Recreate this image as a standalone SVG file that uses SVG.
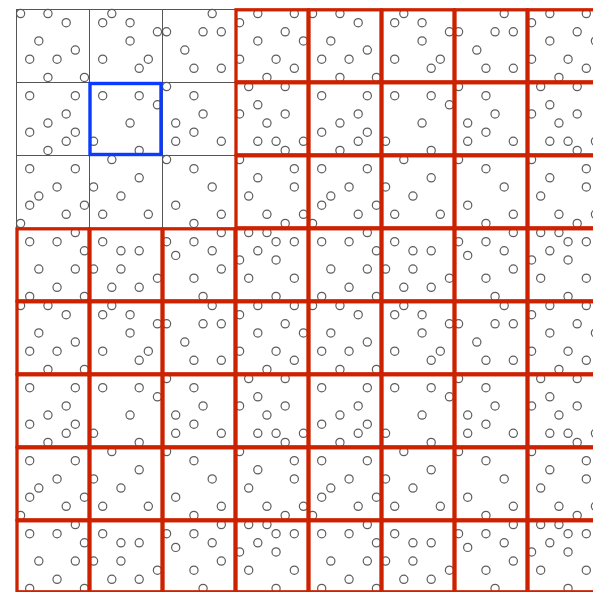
<svg xmlns="http://www.w3.org/2000/svg" width="593" height="592" viewBox="0 0 593 592">
<style>
.dot circle{fill:none;stroke:#5e5e5e;stroke-width:1.2}
.gray{fill:none;stroke:#555;stroke-width:1}
.red{fill:none;stroke:#cc2200;stroke-width:3.3}
.blue{fill:none;stroke:#0b3bff;stroke-width:3.4}
</style>
<defs>
<g id="p00" class="dot"><circle cx="4.56" cy="4.56" r="4.1"/><circle cx="31.94" cy="4.56" r="4.1"/><circle cx="50.19" cy="13.69" r="4.1"/><circle cx="22.81" cy="31.94" r="4.1"/><circle cx="59.31" cy="41.06" r="4.1"/><circle cx="13.69" cy="50.19" r="4.1"/><circle cx="41.06" cy="50.19" r="4.1"/><circle cx="31.94" cy="68.44" r="4.1"/><circle cx="68.44" cy="68.44" r="4.1"/></g>
<g id="p01" class="dot"><circle cx="22.81" cy="4.56" r="4.1"/><circle cx="13.69" cy="13.69" r="4.1"/><circle cx="41.06" cy="13.69" r="4.1"/><circle cx="68.44" cy="22.81" r="4.1"/><circle cx="41.06" cy="31.94" r="4.1"/><circle cx="13.69" cy="50.19" r="4.1"/><circle cx="59.31" cy="50.19" r="4.1"/><circle cx="50.19" cy="59.31" r="4.1"/></g>
<g id="p02" class="dot"><circle cx="50.19" cy="4.56" r="4.1"/><circle cx="4.56" cy="22.81" r="4.1"/><circle cx="41.06" cy="22.81" r="4.1"/><circle cx="59.31" cy="22.81" r="4.1"/><circle cx="22.81" cy="41.06" r="4.1"/><circle cx="31.94" cy="59.31" r="4.1"/><circle cx="59.31" cy="59.31" r="4.1"/></g>
<g id="p03" class="dot"><circle cx="22.81" cy="4.56" r="4.1"/><circle cx="59.31" cy="4.56" r="4.1"/><circle cx="4.56" cy="13.69" r="4.1"/><circle cx="50.19" cy="22.81" r="4.1"/><circle cx="22.81" cy="31.94" r="4.1"/><circle cx="68.44" cy="31.94" r="4.1"/><circle cx="4.56" cy="50.19" r="4.1"/><circle cx="41.06" cy="50.19" r="4.1"/><circle cx="59.31" cy="59.31" r="4.1"/><circle cx="31.94" cy="68.44" r="4.1"/></g>
<g id="p10" class="dot"><circle cx="13.69" cy="13.69" r="4.1"/><circle cx="59.31" cy="13.69" r="4.1"/><circle cx="50.19" cy="31.94" r="4.1"/><circle cx="31.94" cy="41.06" r="4.1"/><circle cx="13.69" cy="50.19" r="4.1"/><circle cx="59.31" cy="50.19" r="4.1"/><circle cx="50.19" cy="59.31" r="4.1"/><circle cx="31.94" cy="68.44" r="4.1"/></g>
<g id="p11" class="dot"><circle cx="13.69" cy="13.69" r="4.1"/><circle cx="50.19" cy="13.69" r="4.1"/><circle cx="68.44" cy="22.81" r="4.1"/><circle cx="41.06" cy="41.06" r="4.1"/><circle cx="4.56" cy="59.31" r="4.1"/><circle cx="50.19" cy="68.44" r="4.1"/></g>
<g id="p12" class="dot"><circle cx="4.56" cy="4.56" r="4.1"/><circle cx="31.94" cy="13.69" r="4.1"/><circle cx="41.06" cy="31.94" r="4.1"/><circle cx="13.69" cy="41.06" r="4.1"/><circle cx="31.94" cy="50.19" r="4.1"/><circle cx="13.69" cy="59.31" r="4.1"/><circle cx="59.31" cy="59.31" r="4.1"/></g>
<g id="p13" class="dot"><circle cx="13.69" cy="4.56" r="4.1"/><circle cx="50.19" cy="4.56" r="4.1"/><circle cx="22.81" cy="22.81" r="4.1"/><circle cx="4.56" cy="31.94" r="4.1"/><circle cx="50.19" cy="31.94" r="4.1"/><circle cx="31.94" cy="41.06" r="4.1"/><circle cx="22.81" cy="59.31" r="4.1"/><circle cx="41.06" cy="59.31" r="4.1"/><circle cx="68.44" cy="59.31" r="4.1"/><circle cx="50.19" cy="68.44" r="4.1"/></g>
<g id="p20" class="dot"><circle cx="13.69" cy="13.69" r="4.1"/><circle cx="59.31" cy="13.69" r="4.1"/><circle cx="41.06" cy="31.94" r="4.1"/><circle cx="22.81" cy="41.06" r="4.1"/><circle cx="13.69" cy="50.19" r="4.1"/><circle cx="68.44" cy="50.19" r="4.1"/><circle cx="50.19" cy="59.31" r="4.1"/><circle cx="4.56" cy="68.44" r="4.1"/></g>
<g id="p21" class="dot"><circle cx="22.81" cy="4.56" r="4.1"/><circle cx="50.19" cy="22.81" r="4.1"/><circle cx="4.56" cy="31.94" r="4.1"/><circle cx="31.94" cy="41.06" r="4.1"/><circle cx="13.69" cy="59.31" r="4.1"/><circle cx="59.31" cy="59.31" r="4.1"/></g>
<g id="p22" class="dot"><circle cx="4.56" cy="4.56" r="4.1"/><circle cx="31.94" cy="13.69" r="4.1"/><circle cx="50.19" cy="31.94" r="4.1"/><circle cx="13.69" cy="50.19" r="4.1"/><circle cx="59.31" cy="59.31" r="4.1"/><circle cx="31.94" cy="68.44" r="4.1"/></g>
<g id="p23" class="dot"><circle cx="4.56" cy="4.56" r="4.1"/><circle cx="59.31" cy="13.69" r="4.1"/><circle cx="22.81" cy="22.81" r="4.1"/><circle cx="59.31" cy="31.94" r="4.1"/><circle cx="13.69" cy="41.06" r="4.1"/><circle cx="31.94" cy="59.31" r="4.1"/><circle cx="68.44" cy="59.31" r="4.1"/><circle cx="50.19" cy="68.44" r="4.1"/></g>
<g id="p30" class="dot"><circle cx="59.31" cy="4.56" r="4.1"/><circle cx="13.69" cy="13.69" r="4.1"/><circle cx="41.06" cy="13.69" r="4.1"/><circle cx="68.44" cy="22.81" r="4.1"/><circle cx="22.81" cy="41.06" r="4.1"/><circle cx="59.31" cy="41.06" r="4.1"/><circle cx="41.06" cy="59.31" r="4.1"/><circle cx="13.69" cy="68.44" r="4.1"/><circle cx="68.44" cy="68.44" r="4.1"/></g>
<g id="p31" class="dot"><circle cx="13.69" cy="13.69" r="4.1"/><circle cx="31.94" cy="22.81" r="4.1"/><circle cx="50.19" cy="22.81" r="4.1"/><circle cx="4.56" cy="41.06" r="4.1"/><circle cx="31.94" cy="41.06" r="4.1"/><circle cx="68.44" cy="50.19" r="4.1"/><circle cx="22.81" cy="59.31" r="4.1"/><circle cx="50.19" cy="59.31" r="4.1"/></g>
<g id="p32" class="dot"><circle cx="59.31" cy="4.56" r="4.1"/><circle cx="4.56" cy="13.69" r="4.1"/><circle cx="31.94" cy="13.69" r="4.1"/><circle cx="50.19" cy="22.81" r="4.1"/><circle cx="13.69" cy="27.38" r="4.1"/><circle cx="59.31" cy="41.06" r="4.1"/><circle cx="31.94" cy="50.19" r="4.1"/><circle cx="41.06" cy="68.44" r="4.1"/></g>
<g id="p33" class="dot"><circle cx="13.69" cy="4.56" r="4.1"/><circle cx="31.94" cy="4.56" r="4.1"/><circle cx="41.06" cy="13.69" r="4.1"/><circle cx="59.31" cy="13.69" r="4.1"/><circle cx="22.81" cy="22.81" r="4.1"/><circle cx="4.56" cy="31.94" r="4.1"/><circle cx="41.06" cy="31.94" r="4.1"/><circle cx="13.69" cy="50.19" r="4.1"/><circle cx="59.31" cy="50.19" r="4.1"/><circle cx="41.06" cy="68.44" r="4.1"/></g>
</defs>
<rect x="0" y="0" width="593" height="592" fill="#fff"/>
<g id="cells">
<g id="cell-0-0"><use href="#p00" x="16" y="9"/><rect class="gray" x="16.5" y="9.5" width="73" height="73"/></g>
<g id="cell-0-1"><use href="#p01" x="89" y="9"/><rect class="gray" x="89.5" y="9.5" width="73" height="73"/></g>
<g id="cell-0-2"><use href="#p02" x="162" y="9"/><rect class="gray" x="162.5" y="9.5" width="73" height="73"/></g>
<g id="cell-1-0"><use href="#p10" x="16" y="82"/><rect class="gray" x="16.5" y="82.5" width="73" height="73"/></g>
<g id="cell-1-2"><use href="#p12" x="162" y="82"/><rect class="gray" x="162.5" y="82.5" width="73" height="73"/></g>
<g id="cell-2-0"><use href="#p20" x="16" y="155"/><rect class="gray" x="16.5" y="155.5" width="73" height="73"/></g>
<g id="cell-2-1"><use href="#p21" x="89" y="155"/><rect class="gray" x="89.5" y="155.5" width="73" height="73"/></g>
<g id="cell-2-2"><use href="#p22" x="162" y="155"/><rect class="gray" x="162.5" y="155.5" width="73" height="73"/></g>
<g id="cell-1-1"><use href="#p11" x="89" y="82"/><rect class="blue" x="90" y="83.5" width="71" height="71"/></g>

<g id="cell-0-3"><use href="#p03" x="235" y="9"/><rect class="red" x="236" y="9.8" width="72" height="72"/></g>
<g id="cell-0-4"><use href="#p00" x="308" y="9"/><rect class="red" x="309" y="9.8" width="72" height="72"/></g>
<g id="cell-0-5"><use href="#p01" x="381" y="9"/><rect class="red" x="382" y="9.8" width="72" height="72"/></g>
<g id="cell-0-6"><use href="#p02" x="454" y="9"/><rect class="red" x="455" y="9.8" width="72" height="72"/></g>
<g id="cell-0-7"><use href="#p03" x="527" y="9"/><rect class="red" x="528" y="9.8" width="72" height="72"/></g>

<g id="cell-1-3"><use href="#p13" x="235" y="82"/><rect class="red" x="236" y="82.8" width="72" height="72"/></g>
<g id="cell-1-4"><use href="#p10" x="308" y="82"/><rect class="red" x="309" y="82.8" width="72" height="72"/></g>
<g id="cell-1-5"><use href="#p11" x="381" y="82"/><rect class="red" x="382" y="82.8" width="72" height="72"/></g>
<g id="cell-1-6"><use href="#p12" x="454" y="82"/><rect class="red" x="455" y="82.8" width="72" height="72"/></g>
<g id="cell-1-7"><use href="#p13" x="527" y="82"/><rect class="red" x="528" y="82.8" width="72" height="72"/></g>

<g id="cell-2-3"><use href="#p23" x="235" y="155"/><rect class="red" x="236" y="155.8" width="72" height="72"/></g>
<g id="cell-2-4"><use href="#p20" x="308" y="155"/><rect class="red" x="309" y="155.8" width="72" height="72"/></g>
<g id="cell-2-5"><use href="#p21" x="381" y="155"/><rect class="red" x="382" y="155.8" width="72" height="72"/></g>
<g id="cell-2-6"><use href="#p22" x="454" y="155"/><rect class="red" x="455" y="155.8" width="72" height="72"/></g>
<g id="cell-2-7"><use href="#p23" x="527" y="155"/><rect class="red" x="528" y="155.8" width="72" height="72"/></g>

<g id="cell-3-0"><use href="#p30" x="16" y="228"/><rect class="red" x="17" y="228.8" width="72" height="72"/></g>
<g id="cell-3-1"><use href="#p31" x="89" y="228"/><rect class="red" x="90" y="228.8" width="72" height="72"/></g>
<g id="cell-3-2"><use href="#p32" x="162" y="228"/><rect class="red" x="163" y="228.8" width="72" height="72"/></g>
<g id="cell-3-3"><use href="#p33" x="235" y="228"/><rect class="red" x="236" y="228.8" width="72" height="72"/></g>
<g id="cell-3-4"><use href="#p30" x="308" y="228"/><rect class="red" x="309" y="228.8" width="72" height="72"/></g>
<g id="cell-3-5"><use href="#p31" x="381" y="228"/><rect class="red" x="382" y="228.8" width="72" height="72"/></g>
<g id="cell-3-6"><use href="#p32" x="454" y="228"/><rect class="red" x="455" y="228.8" width="72" height="72"/></g>
<g id="cell-3-7"><use href="#p33" x="527" y="228"/><rect class="red" x="528" y="228.8" width="72" height="72"/></g>

<g id="cell-4-0"><use href="#p00" x="16" y="301"/><rect class="red" x="17" y="301.8" width="72" height="72"/></g>
<g id="cell-4-1"><use href="#p01" x="89" y="301"/><rect class="red" x="90" y="301.8" width="72" height="72"/></g>
<g id="cell-4-2"><use href="#p02" x="162" y="301"/><rect class="red" x="163" y="301.8" width="72" height="72"/></g>
<g id="cell-4-3"><use href="#p03" x="235" y="301"/><rect class="red" x="236" y="301.8" width="72" height="72"/></g>
<g id="cell-4-4"><use href="#p00" x="308" y="301"/><rect class="red" x="309" y="301.8" width="72" height="72"/></g>
<g id="cell-4-5"><use href="#p01" x="381" y="301"/><rect class="red" x="382" y="301.8" width="72" height="72"/></g>
<g id="cell-4-6"><use href="#p02" x="454" y="301"/><rect class="red" x="455" y="301.8" width="72" height="72"/></g>
<g id="cell-4-7"><use href="#p03" x="527" y="301"/><rect class="red" x="528" y="301.8" width="72" height="72"/></g>

<g id="cell-5-0"><use href="#p10" x="16" y="374"/><rect class="red" x="17" y="374.8" width="72" height="72"/></g>
<g id="cell-5-1"><use href="#p11" x="89" y="374"/><rect class="red" x="90" y="374.8" width="72" height="72"/></g>
<g id="cell-5-2"><use href="#p12" x="162" y="374"/><rect class="red" x="163" y="374.8" width="72" height="72"/></g>
<g id="cell-5-3"><use href="#p13" x="235" y="374"/><rect class="red" x="236" y="374.8" width="72" height="72"/></g>
<g id="cell-5-4"><use href="#p10" x="308" y="374"/><rect class="red" x="309" y="374.8" width="72" height="72"/></g>
<g id="cell-5-5"><use href="#p11" x="381" y="374"/><rect class="red" x="382" y="374.8" width="72" height="72"/></g>
<g id="cell-5-6"><use href="#p12" x="454" y="374"/><rect class="red" x="455" y="374.8" width="72" height="72"/></g>
<g id="cell-5-7"><use href="#p13" x="527" y="374"/><rect class="red" x="528" y="374.8" width="72" height="72"/></g>

<g id="cell-6-0"><use href="#p20" x="16" y="447"/><rect class="red" x="17" y="447.8" width="72" height="72"/></g>
<g id="cell-6-1"><use href="#p21" x="89" y="447"/><rect class="red" x="90" y="447.8" width="72" height="72"/></g>
<g id="cell-6-2"><use href="#p22" x="162" y="447"/><rect class="red" x="163" y="447.8" width="72" height="72"/></g>
<g id="cell-6-3"><use href="#p23" x="235" y="447"/><rect class="red" x="236" y="447.8" width="72" height="72"/></g>
<g id="cell-6-4"><use href="#p20" x="308" y="447"/><rect class="red" x="309" y="447.8" width="72" height="72"/></g>
<g id="cell-6-5"><use href="#p21" x="381" y="447"/><rect class="red" x="382" y="447.8" width="72" height="72"/></g>
<g id="cell-6-6"><use href="#p22" x="454" y="447"/><rect class="red" x="455" y="447.8" width="72" height="72"/></g>
<g id="cell-6-7"><use href="#p23" x="527" y="447"/><rect class="red" x="528" y="447.8" width="72" height="72"/></g>

<g id="cell-7-0"><use href="#p30" x="16" y="520"/><rect class="red" x="17" y="520.8" width="72" height="71"/></g>
<g id="cell-7-1"><use href="#p31" x="89" y="520"/><rect class="red" x="90" y="520.8" width="72" height="71"/></g>
<g id="cell-7-2"><use href="#p32" x="162" y="520"/><rect class="red" x="163" y="520.8" width="72" height="71"/></g>
<g id="cell-7-3"><use href="#p33" x="235" y="520"/><rect class="red" x="236" y="520.8" width="72" height="71"/></g>
<g id="cell-7-4"><use href="#p30" x="308" y="520"/><rect class="red" x="309" y="520.8" width="72" height="71"/></g>
<g id="cell-7-5"><use href="#p31" x="381" y="520"/><rect class="red" x="382" y="520.8" width="72" height="71"/></g>
<g id="cell-7-6"><use href="#p32" x="454" y="520"/><rect class="red" x="455" y="520.8" width="72" height="71"/></g>
<g id="cell-7-7"><use href="#p33" x="527" y="520"/><rect class="red" x="528" y="520.8" width="72" height="71"/></g>
</g>
</svg>
